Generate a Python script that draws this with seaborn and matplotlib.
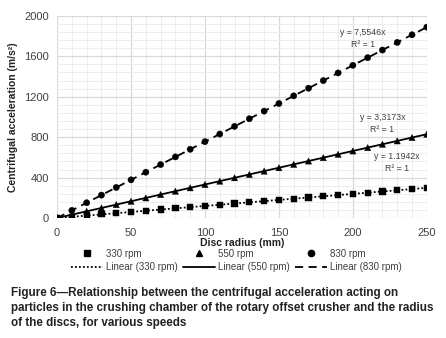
import matplotlib
matplotlib.use("Agg")
import matplotlib.pyplot as plt
import seaborn as sns
import pandas as pd
from matplotlib.lines import Line2D
from matplotlib.ticker import MultipleLocator, FuncFormatter

radius = [0, 10, 20, 30, 40, 50, 60, 70, 80, 90, 100, 110, 120, 130, 140,
          150, 160, 170, 180, 190, 200, 210, 220, 230, 240, 250]
acc_330 = [0, 11.9, 23.9, 35.8, 47.8, 59.7, 71.7, 83.6, 95.5, 107.5, 119.4,
           131.4, 143.3, 155.2, 167.2, 179.1, 191.1, 203.0, 215.0, 226.9,
           238.8, 250.8, 262.7, 274.7, 286.6, 298.6]
acc_550 = [0, 33.2, 66.3, 99.5, 132.7, 165.9, 199.0, 232.2, 265.4, 298.6,
           331.7, 364.9, 398.1, 431.2, 464.4, 497.6, 530.8, 563.9, 597.1,
           630.3, 663.5, 696.6, 729.8, 763.0, 796.2, 829.3]
acc_830 = [0, 75.5, 151.1, 226.6, 302.2, 377.7, 453.3, 528.8, 604.4, 679.9,
           755.5, 831.0, 906.6, 982.1, 1057.6, 1133.2, 1208.7, 1284.3, 1359.8,
           1435.4, 1510.9, 1586.5, 1662.0, 1737.6, 1813.1, 1888.7]
series_names = ["330 rpm", "550 rpm", "830 rpm"]
equations = ["y = 1.1942x", "y = 3,3173x", "y = 7,5546x"]
caption = ("Figure 6\u2014Relationship between the centrifugal acceleration acting on\n"
           "particles in the crushing chamber of the rotary offset crusher and the radius\n"
           "of the discs, for various speeds")

rows = []
for name, vals in zip(series_names, [acc_330, acc_550, acc_830]):
    for x, y in zip(radius, vals):
        rows.append({"radius": x, "acc": y, "speed": name})
df = pd.DataFrame(rows)

sns.set_theme(style="whitegrid")
plt.rcParams['font.family'] = ['Liberation Sans', 'DejaVu Sans']

fig = plt.figure(figsize=(4.46, 3.38), dpi=100)
ax = fig.add_axes([0.128, 0.355, 0.829, 0.598])

markers = {"330 rpm": "s", "550 rpm": "^", "830 rpm": "o"}
dashes = {"330 rpm": (1, 1.2), "550 rpm": "", "830 rpm": (4.5, 3)}

sns.lineplot(data=df, x="radius", y="acc", hue="speed", style="speed",
             palette=["black"] * 3, dashes=dashes, linewidth=1.3,
             legend=False, ax=ax, zorder=2)
sns.scatterplot(data=df, x="radius", y="acc", hue="speed", style="speed",
                palette=["black"] * 3, markers=markers, s=20,
                edgecolor="black", linewidth=0.3, legend=False, ax=ax, zorder=3)

ax.set_xlim(0, 250)
ax.set_ylim(0, 2000)
ax.xaxis.set_major_locator(MultipleLocator(50))
ax.xaxis.set_minor_locator(MultipleLocator(10))
ax.yaxis.set_major_locator(MultipleLocator(400))
ax.yaxis.set_minor_locator(MultipleLocator(80))
ax.xaxis.set_major_formatter(FuncFormatter(lambda v, p: "%d" % v))
ax.yaxis.set_major_formatter(FuncFormatter(lambda v, p: "%d" % v))
ax.grid(which="major", color="#d9d9d9", linewidth=0.9)
ax.grid(which="minor", color="#ededed", linewidth=0.7)
ax.set_axisbelow(True)
for sp in ax.spines.values():
    sp.set_visible(False)
ax.tick_params(axis="both", which="both", length=0, labelsize=8,
               labelcolor="#404040", pad=6)
ax.tick_params(axis="x", pad=7)

ax.set_xlabel("Disc radius (mm)", fontsize=7.5, fontweight="bold",
              color="#222222", labelpad=0.5)
ax.set_ylabel("Centrifugal acceleration (m/s\u00b2)", fontsize=7.5,
              fontweight="bold", color="#222222", labelpad=4)

ann = [(229.7, 604, 485), (220, 990, 871), (206.8, 1832, 1713)]
for eq, (xx, y1, y2) in zip(equations, ann):
    ax.text(xx, y1, eq, fontsize=6.3, color="#404040", ha="center", va="center")
    ax.text(xx, y2, "R\u00b2 = 1", fontsize=6.3, color="#404040",
            ha="center", va="center")

handles = []
for name in series_names:
    handles.append(Line2D([], [], color="black", marker=markers[name],
                          linestyle="none", markersize=4.5))
    ls = "-" if dashes[name] == "" else (0, dashes[name])
    handles.append(Line2D([], [], color="black", linestyle=ls, linewidth=1.3))
labels = []
for name in series_names:
    labels.append(name)
    labels.append("Linear (" + name + ")")
fig.legend(handles, labels, ncol=3, loc="center", bbox_to_anchor=(0.53, 0.230),
           frameon=False, fontsize=7, handlelength=3.3, handletextpad=0.3,
           columnspacing=0.5, labelspacing=0.35, labelcolor="#404040")

fig.text(0.025, 0.089, caption, fontsize=8.4, fontweight="bold",
         color="#222222", ha="left", va="center", linespacing=1.3)

fig.savefig("out.png", dpi=100)
